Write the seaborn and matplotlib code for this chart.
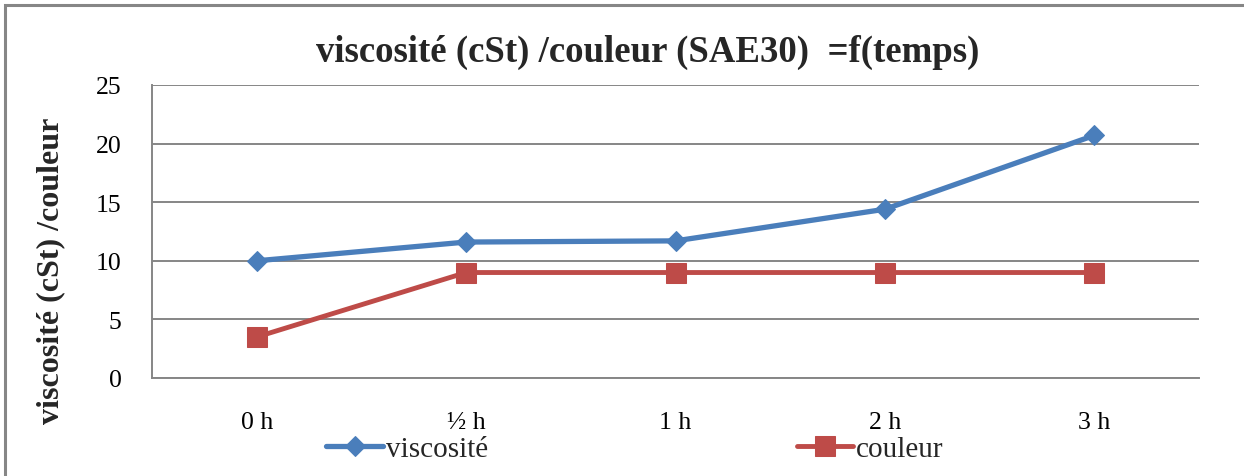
import matplotlib
matplotlib.use("Agg")
import matplotlib.pyplot as plt
from matplotlib.patches import Rectangle
import seaborn as sns
import pandas as pd

# Data
temps = ["0 h", "\u00bd h", "1 h", "2 h", "3 h"]
viscosite = [10.0, 11.6, 11.7, 14.4, 20.7]
couleur = [3.5, 9.0, 9.0, 9.0, 9.0]
y_ticks = [0, 5, 10, 15, 20, 25]

BLUE = "#4A7EBB"
RED = "#BE4B48"
GRID = "#868686"

sns.set_theme(style="white")
plt.rcParams["font.family"] = ["Liberation Serif", "DejaVu Serif"]

pos = list(range(len(temps)))
df_v = pd.DataFrame({"pos": pos, "valeur": viscosite})
df_c = pd.DataFrame({"pos": pos, "valeur": couleur})

fig = plt.figure(figsize=(12.44, 4.77), dpi=100)
ax = fig.add_axes([152 / 1244, 1 - 379 / 477, 1047 / 1244, 293 / 477])

sns.lineplot(data=df_v, x="pos", y="valeur", ax=ax, color=BLUE, lw=3.8,
             marker="D", markersize=10.5, markeredgecolor=BLUE,
             label="viscosit\u00e9", zorder=4)
sns.lineplot(data=df_c, x="pos", y="valeur", ax=ax, color=RED, lw=3.5,
             marker="s", markersize=14, markeredgecolor=RED,
             label="couleur", zorder=3)

ax.set_xlim(-0.5, len(temps) - 0.5)
ax.set_ylim(0, 25)
ax.set_xticks(pos)
ax.set_xticklabels(temps)
ax.set_yticks(y_ticks)
ax.set_xlabel("")
ax.yaxis.grid(True, color=GRID, lw=1.4)
ax.xaxis.grid(False)
ax.tick_params(axis="both", length=0, labelsize=18.5, colors="black")
ax.tick_params(axis="y", pad=22)
ax.tick_params(axis="x", pad=24)
for side in ("top", "right"):
    ax.spines[side].set_visible(False)
for side in ("left", "bottom"):
    ax.spines[side].set_color(GRID)
    ax.spines[side].set_linewidth(1.4)

ax.set_ylabel("viscosit\u00e9 (cSt) /couleur", fontsize=23, fontweight="bold")
ax.yaxis.label.set_va("center")
ax.yaxis.set_label_coords((51 - 152) / 1047, 0.37)

fig.text(648 / 1244, 1 - 52 / 477,
         "viscosit\u00e9 (cSt) /couleur (SAE30)  =f(temps)",
         ha="center", va="center", fontsize=26.5, fontweight="bold")

ax.legend(loc="center", bbox_to_anchor=(635 / 1244, 1 - 450 / 477),
          bbox_transform=fig.transFigure, ncol=2, frameon=False,
          fontsize=21, handlelength=1.93, handletextpad=0.1,
          columnspacing=10.6, borderaxespad=0, borderpad=0)

# Chart frame
fig.patches.append(Rectangle((5 / 1244, -0.2), 1.2, 1.2 - 6 / 477,
                             transform=fig.transFigure, fill=False,
                             edgecolor=GRID, lw=2.2, zorder=0))

fig.savefig("out.png", dpi=100, facecolor="white")
